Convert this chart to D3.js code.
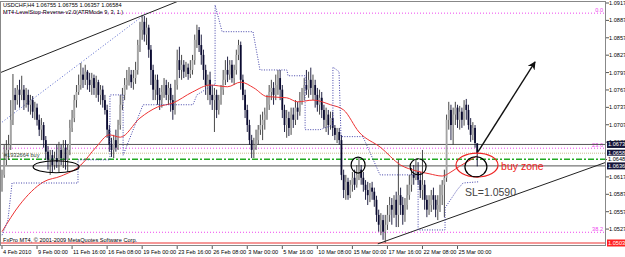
<!DOCTYPE html>
<html><head><meta charset="utf-8">
<script src="https://cdn.jsdelivr.net/npm/d3@7"></script>
<style>body{margin:0;background:#fff}svg{display:block}text{font-family:"Liberation Sans",Arial,sans-serif}</style>
</head><body><svg id="c" width="625" height="257"></svg>
<script>
// ---- data (prices) ----
const opens=[1.0604,1.0621,1.0647,1.0664,1.0673,1.0716,1.0759,1.0750,1.0768,1.0759,1.0768,1.0750,1.0759,1.0742,1.0750,1.0730,1.0737,1.0716,1.0699,1.0707,1.0681,1.0661,1.0647,1.0655,1.0638,1.0650,1.0643,1.0664,1.0650,1.0668,1.0647,1.0664,1.0702,1.0719,1.0750,1.0764,1.0776,1.0794,1.0785,1.0799,1.0785,1.0776,1.0788,1.0771,1.0781,1.0759,1.0768,1.0750,1.0733,1.0699,1.0673,1.0664,1.0681,1.0668,1.0707,1.0742,1.0759,1.0776,1.0785,1.0794,1.0781,1.0788,1.0802,1.0845,1.0871,1.0885,1.0863,1.0875,1.0837,1.0802,1.0768,1.0785,1.0759,1.0750,1.0764,1.0776,1.0759,1.0771,1.0750,1.0733,1.0776,1.0819,1.0802,1.0811,1.0799,1.0806,1.0795,1.0802,1.0819,1.0854,1.0871,1.0845,1.0828,1.0802,1.0776,1.0785,1.0759,1.0750,1.0759,1.0733,1.0750,1.0768,1.0785,1.0802,1.0794,1.0811,1.0788,1.0802,1.0828,1.0845,1.0785,1.0759,1.0733,1.0707,1.0681,1.0664,1.0673,1.0681,1.0699,1.0707,1.0716,1.0725,1.0742,1.0764,1.0771,1.0759,1.0776,1.0788,1.0768,1.0733,1.0707,1.0719,1.0702,1.0725,1.0716,1.0737,1.0730,1.0750,1.0759,1.0776,1.0768,1.0785,1.0771,1.0776,1.0759,1.0742,1.0754,1.0733,1.0716,1.0725,1.0707,1.0719,1.0702,1.0690,1.0695,1.0681,1.0621,1.0595,1.0609,1.0586,1.0604,1.0616,1.0604,1.0621,1.0630,1.0616,1.0604,1.0595,1.0586,1.0599,1.0592,1.0578,1.0552,1.0535,1.0543,1.0523,1.0535,1.0552,1.0569,1.0561,1.0578,1.0552,1.0586,1.0569,1.0552,1.0569,1.0586,1.0604,1.0621,1.0616,1.0626,1.0612,1.0595,1.0604,1.0578,1.0561,1.0569,1.0586,1.0578,1.0561,1.0569,1.0586,1.0604,1.0616,1.0716,1.0733,1.0707,1.0725,1.0737,1.0716,1.0730,1.0716,1.0742,1.0733,1.0707,1.0690,1.0702,1.06755];
const highs=[1.0630,1.0673,1.0681,1.0690,1.0750,1.0795,1.0771,1.0776,1.0785,1.0792,1.0776,1.0771,1.0768,1.0759,1.0757,1.0747,1.0744,1.0725,1.0719,1.0712,1.0688,1.0671,1.0664,1.0664,1.0661,1.0673,1.0678,1.0673,1.0681,1.0681,1.0673,1.0716,1.0733,1.0759,1.0776,1.0794,1.0814,1.0806,1.0811,1.0802,1.0797,1.0797,1.0794,1.0792,1.0785,1.0776,1.0775,1.0759,1.0742,1.0707,1.0685,1.0690,1.0699,1.0716,1.0759,1.0771,1.0788,1.0802,1.0807,1.0802,1.0802,1.0816,1.0854,1.0885,1.0897,1.0895,1.0892,1.0880,1.0845,1.0811,1.0794,1.0794,1.0771,1.0776,1.0788,1.0785,1.0781,1.0778,1.0759,1.0785,1.0837,1.0842,1.0828,1.0819,1.0816,1.0813,1.0819,1.0828,1.0863,1.0880,1.0876,1.0863,1.0837,1.0811,1.0794,1.0799,1.0776,1.0771,1.0768,1.0759,1.0776,1.0802,1.0819,1.0825,1.0819,1.0819,1.0811,1.0837,1.0854,1.0851,1.0794,1.0768,1.0742,1.0716,1.0690,1.0685,1.0699,1.0707,1.0725,1.0730,1.0737,1.0759,1.0776,1.0785,1.0781,1.0794,1.0802,1.0802,1.0776,1.0742,1.0733,1.0730,1.0737,1.0737,1.0750,1.0747,1.0764,1.0771,1.0788,1.0802,1.0799,1.0806,1.0794,1.0785,1.0771,1.0768,1.0764,1.0742,1.0737,1.0733,1.0730,1.0730,1.0707,1.0702,1.0702,1.0690,1.0630,1.0621,1.0616,1.0612,1.0626,1.0630,1.0638,1.0650,1.0638,1.0626,1.0612,1.0609,1.0607,1.0609,1.0599,1.0585,1.0561,1.0555,1.0552,1.0552,1.0569,1.0583,1.0581,1.0586,1.0592,1.0647,1.0599,1.0583,1.0581,1.0604,1.0621,1.0633,1.0638,1.0647,1.0643,1.0626,1.0664,1.0612,1.0586,1.0586,1.0595,1.0599,1.0586,1.0586,1.0604,1.0612,1.0630,1.0725,1.0747,1.0742,1.0737,1.0747,1.0742,1.0740,1.0737,1.0750,1.0752,1.0742,1.0719,1.0712,1.0707,1.06755];
const lows=[1.0592,1.0616,1.0638,1.0647,1.0664,1.0707,1.0733,1.0742,1.0737,1.0750,1.0733,1.0737,1.0730,1.0725,1.0719,1.0716,1.0706,1.0688,1.0681,1.0668,1.0647,1.0630,1.0621,1.0626,1.0630,1.0633,1.0626,1.0638,1.0633,1.0630,1.0626,1.0655,1.0695,1.0712,1.0737,1.0759,1.0768,1.0771,1.0776,1.0768,1.0764,1.0759,1.0759,1.0754,1.0747,1.0742,1.0737,1.0725,1.0685,1.0661,1.0652,1.0650,1.0661,1.0664,1.0699,1.0733,1.0750,1.0768,1.0775,1.0771,1.0768,1.0778,1.0794,1.0833,1.0854,1.0851,1.0845,1.0823,1.0776,1.0750,1.0750,1.0742,1.0733,1.0737,1.0754,1.0750,1.0742,1.0730,1.0716,1.0725,1.0768,1.0788,1.0785,1.0788,1.0790,1.0785,1.0788,1.0794,1.0811,1.0840,1.0833,1.0811,1.0785,1.0759,1.0750,1.0742,1.0733,1.0695,1.0719,1.0725,1.0742,1.0759,1.0776,1.0781,1.0785,1.0780,1.0776,1.0794,1.0819,1.0768,1.0750,1.0719,1.0695,1.0673,1.0650,1.0650,1.0664,1.0673,1.0690,1.0681,1.0699,1.0716,1.0733,1.0750,1.0742,1.0750,1.0759,1.0750,1.0719,1.0695,1.0685,1.0688,1.0690,1.0702,1.0707,1.0716,1.0723,1.0742,1.0750,1.0759,1.0754,1.0759,1.0750,1.0737,1.0730,1.0725,1.0719,1.0702,1.0695,1.0690,1.0699,1.0688,1.0681,1.0676,1.0673,1.0612,1.0581,1.0578,1.0578,1.0581,1.0592,1.0595,1.0599,1.0612,1.0604,1.0592,1.0578,1.0569,1.0574,1.0578,1.0566,1.0540,1.0523,1.0517,1.0509,1.0504,1.0526,1.0540,1.0535,1.0547,1.0531,1.0531,1.0552,1.0535,1.0540,1.0561,1.0578,1.0592,1.0604,1.0612,1.0604,1.0581,1.0578,1.0561,1.0548,1.0552,1.0557,1.0561,1.0548,1.0543,1.0557,1.0569,1.0548,1.0609,1.0699,1.0681,1.0673,1.0707,1.0702,1.0699,1.0702,1.0706,1.0716,1.0699,1.0678,1.0681,1.0668,1.06357];
const closes=[1.0621,1.0647,1.0664,1.0673,1.0716,1.0759,1.0750,1.0768,1.0759,1.0768,1.0750,1.0759,1.0742,1.0750,1.0730,1.0737,1.0716,1.0699,1.0707,1.0681,1.0661,1.0647,1.0655,1.0638,1.0650,1.0643,1.0664,1.0650,1.0668,1.0647,1.0664,1.0702,1.0719,1.0750,1.0764,1.0776,1.0794,1.0785,1.0799,1.0785,1.0776,1.0788,1.0771,1.0781,1.0759,1.0768,1.0750,1.0733,1.0699,1.0673,1.0664,1.0681,1.0668,1.0707,1.0742,1.0759,1.0776,1.0785,1.0794,1.0781,1.0788,1.0802,1.0845,1.0871,1.0885,1.0863,1.0875,1.0837,1.0802,1.0768,1.0785,1.0759,1.0750,1.0764,1.0776,1.0759,1.0771,1.0750,1.0733,1.0776,1.0819,1.0802,1.0811,1.0799,1.0806,1.0795,1.0802,1.0819,1.0854,1.0871,1.0845,1.0828,1.0802,1.0776,1.0785,1.0759,1.0750,1.0759,1.0733,1.0750,1.0768,1.0785,1.0802,1.0794,1.0811,1.0788,1.0802,1.0828,1.0845,1.0785,1.0759,1.0733,1.0707,1.0681,1.0664,1.0673,1.0681,1.0699,1.0707,1.0716,1.0725,1.0742,1.0764,1.0771,1.0759,1.0776,1.0788,1.0768,1.0733,1.0707,1.0719,1.0702,1.0725,1.0716,1.0737,1.0730,1.0750,1.0759,1.0776,1.0768,1.0785,1.0771,1.0776,1.0759,1.0742,1.0754,1.0733,1.0716,1.0725,1.0707,1.0719,1.0702,1.0690,1.0695,1.0681,1.0621,1.0595,1.0609,1.0586,1.0604,1.0616,1.0604,1.0621,1.0630,1.0616,1.0604,1.0595,1.0586,1.0599,1.0592,1.0578,1.0552,1.0535,1.0543,1.0523,1.0535,1.0552,1.0569,1.0561,1.0578,1.0552,1.0586,1.0569,1.0552,1.0569,1.0586,1.0604,1.0621,1.0616,1.0626,1.0612,1.0595,1.0604,1.0578,1.0561,1.0569,1.0586,1.0578,1.0561,1.0569,1.0586,1.0604,1.0616,1.0716,1.0733,1.0707,1.0725,1.0737,1.0716,1.0730,1.0716,1.0742,1.0733,1.0707,1.0690,1.0702,1.0676,1.06584];

// moving average (red) sampled [bar index, price]
const maPoints=[[0,1.0523],[8,1.0569],[19,1.0609],[27,1.0619],[36,1.0638],[43,1.0669],[49,1.0690],[54,1.0686],[63,1.0719],[71,1.0738],[78,1.0745],[87,1.0764],[95,1.0776],[103,1.0773],[109,1.0781],[115,1.0771],[121,1.0756],[130,1.0754],[135,1.0747],[142,1.0750],[150,1.0742],[156,1.0733],[163,1.0695],[173,1.0668],[182,1.0638],[189,1.0628],[195,1.0623],[201,1.0619],[205,1.0626],[209,1.0636],[214,1.0647],[217,1.0654]];
// LevelStop-Reverse stop line (blue dotted) [bar index, price]
const stopPoints=[[0,1.0517],[2.7,1.0543],[4.6,1.0607],[34.7,1.0607],[34.7,1.0647],[49.3,1.0647],[49.3,1.0759],[55.3,1.0759],[55.3,1.0655],[64.4,1.0742],[87.2,1.0742],[89,1.0759],[96.3,1.0776],[97.3,1.0776],[97.3,1.0914],[100.5,1.0868],[114.6,1.0868],[117.8,1.0802],[130.1,1.0802],[130.6,1.0792],[138.4,1.0792],[138.4,1.0699],[145.2,1.0699],[151.1,1.0707],[151.1,1.0807],[153.9,1.0799],[154.8,1.0687],[164.8,1.0687],[172.6,1.0621],[190,1.0621],[190,1.0526],[202.3,1.0526],[202.3,1.0564],[207.8,1.0595],[210.5,1.0607],[217.4,1.0609]];

const xTickIndex=[0,16,32,48,64,80,96,112,128,144,160,176,192,208];
const xTickLabels=["4 Feb 2010","9 Feb 00:00","11 Feb 16:00","16 Feb 08:00","19 Feb 00:00","23 Feb 16:00","26 Feb 08:00","3 Mar 00:00","5 Mar 16:00","10 Mar 08:00","15 Mar 00:00","17 Mar 16:00","22 Mar 08:00","25 Mar 00:00"];
const yTickValues=[1.09175,1.08875,1.08575,1.08275,1.07975,1.07675,1.07375,1.07075,1.06775,1.06475,1.06175,1.05875,1.05575,1.05275];

const fibLevels=[{label:"0.0",price:1.0900},{label:"23.6",price:1.0667},{label:"38.2",price:1.0522}];
const hLines=[{price:1.06735,kind:"solid"},{price:1.06584,kind:"bid"},{price:1.0648,kind:"order"},{price:1.06365,kind:"solid"},{price:1.05035,kind:"red"}];
const priceTags=[{price:1.06735,kind:"dark"},{price:1.06584,kind:"dark"},{price:1.0648,kind:"light"},{price:1.06365,kind:"dark"},{price:1.05035,kind:"red"}];
const fibDiagonal=[[-1,1.0709],[66,1.0900]];
const trendTop=[[-1,1.0797],[82,1.0923]];
const trendBottom=[[171.6,1.0502],[276,1.0643]];
const arrowLine=[[217.4,1.0661],[243.4,1.0816]];
const marks=[{i:24.7,p:1.0635,rx:23,ry:6,c:"#000"},{i:162.6,p:1.0638,rx:7,ry:8,c:"#000"},{i:190,p:1.0635,rx:8,ry:8,c:"#000"},{i:216.9,p:1.0638,rx:21,ry:12,c:"#ee2222"},{i:216.4,p:1.0635,rx:11,ry:10,c:"#000"}];
const notes=[{i:227.9,p:1.0630,text:"buy zone",c:"#ee2222",size:10.5},{i:211.4,p:1.0585,text:"SL=1.0590",c:"#444",size:10.5}];
const header=["USDCHF,H4  1.06755 1.06755 1.06357 1.06584","MT4-LevelStop-Reverse-v2.0(ATRMode 9, 3, 1 )"];

// ---- drawing ----
const svg=d3.select("#c");
const L=0,R=606,T=1,B=246;
const x=d3.scaleLinear().domain([0,100]).range([2,221]);
const y=d3.scaleLinear().domain([1.05035,1.09175]).range([243,3]);
const fs=5.6;

svg.append("defs").append("clipPath").attr("id","pc").append("rect").attr("x",L).attr("y",T).attr("width",R-L).attr("height",B-T);
svg.select("defs").append("marker").attr("id","ah").attr("viewBox","0 0 10 10").attr("refX",9).attr("refY",5)
 .attr("markerWidth",6).attr("markerHeight",6).attr("orient","auto")
 .append("path").attr("d","M0,0 L10,5 L0,10 L3,5 Z").attr("fill","#111");

const g=svg.append("g").attr("clip-path","url(#pc)");

// horizontal lines
fibLevels.forEach(f=>{
  g.append("line").attr("x1",L).attr("x2",R).attr("y1",y(f.price)).attr("y2",y(f.price))
   .attr("stroke","#ee44ee").attr("stroke-width",1).attr("stroke-dasharray","1,2");
  g.append("text").attr("x",603).attr("y",y(f.price)-1.5).attr("text-anchor","end").attr("font-size",fs).attr("fill","#ee44ee").text(f.label);
});
hLines.forEach(h=>{
  const l=g.append("line").attr("x1",L).attr("x2",R).attr("y1",y(h.price)).attr("y2",y(h.price));
  if(h.kind==="solid") l.attr("stroke","#555").attr("stroke-width",1);
  if(h.kind==="bid") l.attr("stroke","#c8b890").attr("stroke-width",1).attr("stroke-dasharray","1,1");
  if(h.kind==="order") l.attr("stroke","#22aa22").attr("stroke-width",1.3).attr("stroke-dasharray","6,2,2,2");
  if(h.kind==="red") l.attr("stroke","#ee3333").attr("stroke-width",1.2);
});

const line=d3.line().x(d=>x(d[0])).y(d=>y(d[1]));
g.append("path").attr("d",line(fibDiagonal)).attr("fill","none").attr("stroke","#5566cc").attr("stroke-dasharray","1,2");
g.append("path").attr("d",line(trendTop)).attr("fill","none").attr("stroke","#222").attr("stroke-width",1);
g.append("path").attr("d",line(trendBottom)).attr("fill","none").attr("stroke","#222").attr("stroke-width",1);

// candles
const idx=d3.range(closes.length);
g.selectAll(".w").data(idx).join("line")
 .attr("x1",i=>x(i)).attr("x2",i=>x(i)).attr("y1",i=>y(highs[i])).attr("y2",i=>y(lows[i]))
 .attr("stroke",i=>closes[i]>=opens[i]?"#333":"#0a0a30").attr("stroke-width",0.9);
g.selectAll(".b").data(idx).join("rect")
 .attr("x",i=>x(i)-0.9).attr("width",1.8)
 .attr("y",i=>y(Math.max(opens[i],closes[i])))
 .attr("height",i=>Math.max(0.8,Math.abs(y(opens[i])-y(closes[i]))))
 .attr("fill",i=>closes[i]>=opens[i]?"#a4a4a4":"#0a0a30");

// indicators
g.append("path").attr("d",d3.line().x(d=>x(d[0])).y(d=>y(d[1])).curve(d3.curveMonotoneX)(maPoints))
 .attr("fill","none").attr("stroke","#ee3333").attr("stroke-width",1);
g.append("path").attr("d",line(stopPoints)).attr("fill","none").attr("stroke","#4444aa").attr("stroke-width",1).attr("stroke-dasharray","1,1.5");

// annotations
marks.forEach(m=>g.append("ellipse").attr("cx",x(m.i)).attr("cy",y(m.p)).attr("rx",m.rx).attr("ry",m.ry)
  .attr("fill","none").attr("stroke",m.c).attr("stroke-width",1.2));
g.append("path").attr("d",line(arrowLine)).attr("fill","none").attr("stroke","#111").attr("stroke-width",1.4).attr("marker-end","url(#ah)");
notes.forEach(n=>g.append("text").attr("x",x(n.i)).attr("y",y(n.p)).attr("font-size",n.size).attr("fill",n.c).text(n.text));

g.append("text").attr("x",4).attr("y",y(1.0651)).attr("font-size",fs).attr("fill","#334433").text("#1932664 buy");
header.forEach((h,k)=>g.append("text").attr("x",3).attr("y",7+k*7).attr("font-size",fs).attr("fill","#000").text(h));
g.append("text").attr("x",3).attr("y",242).attr("font-size",fs).attr("fill","#000").text("FxPro MT4, \u00a9 2001-2009 MetaQuotes Software Corp.");

// frame
svg.append("rect").attr("x",L+0.5).attr("y",T+0.5).attr("width",R-L-1).attr("height",B-T-1).attr("fill","none").attr("stroke","#888");

// right axis
const ya=svg.append("g");
yTickValues.forEach(v=>{
  ya.append("line").attr("x1",R).attr("x2",R+3).attr("y1",y(v)).attr("y2",y(v)).attr("stroke","#555");
  ya.append("text").attr("x",R+3).attr("y",y(v)+2).attr("font-size",fs).attr("fill","#000").text(v.toFixed(5));
});
priceTags.forEach(t=>{
  const bg=t.kind==="dark"?"#141438":t.kind==="red"?"#ff2020":"#fff";
  const fg=t.kind==="light"?"#000":"#fff";
  ya.append("rect").attr("x",R+1).attr("y",y(t.price)-3.5).attr("width",19).attr("height",7).attr("fill",bg);
  ya.append("text").attr("x",R+2).attr("y",y(t.price)+2).attr("font-size",fs).attr("fill",fg).text(t.price.toFixed(5));
});

// bottom axis
xTickIndex.forEach((v,k)=>{
  svg.append("line").attr("x1",x(v)).attr("x2",x(v)).attr("y1",B).attr("y2",B+3).attr("stroke","#555");
  svg.append("text").attr("x",x(v)+1).attr("y",254).attr("font-size",fs).attr("fill","#000").text(xTickLabels[k]);
});
</script></body></html>
